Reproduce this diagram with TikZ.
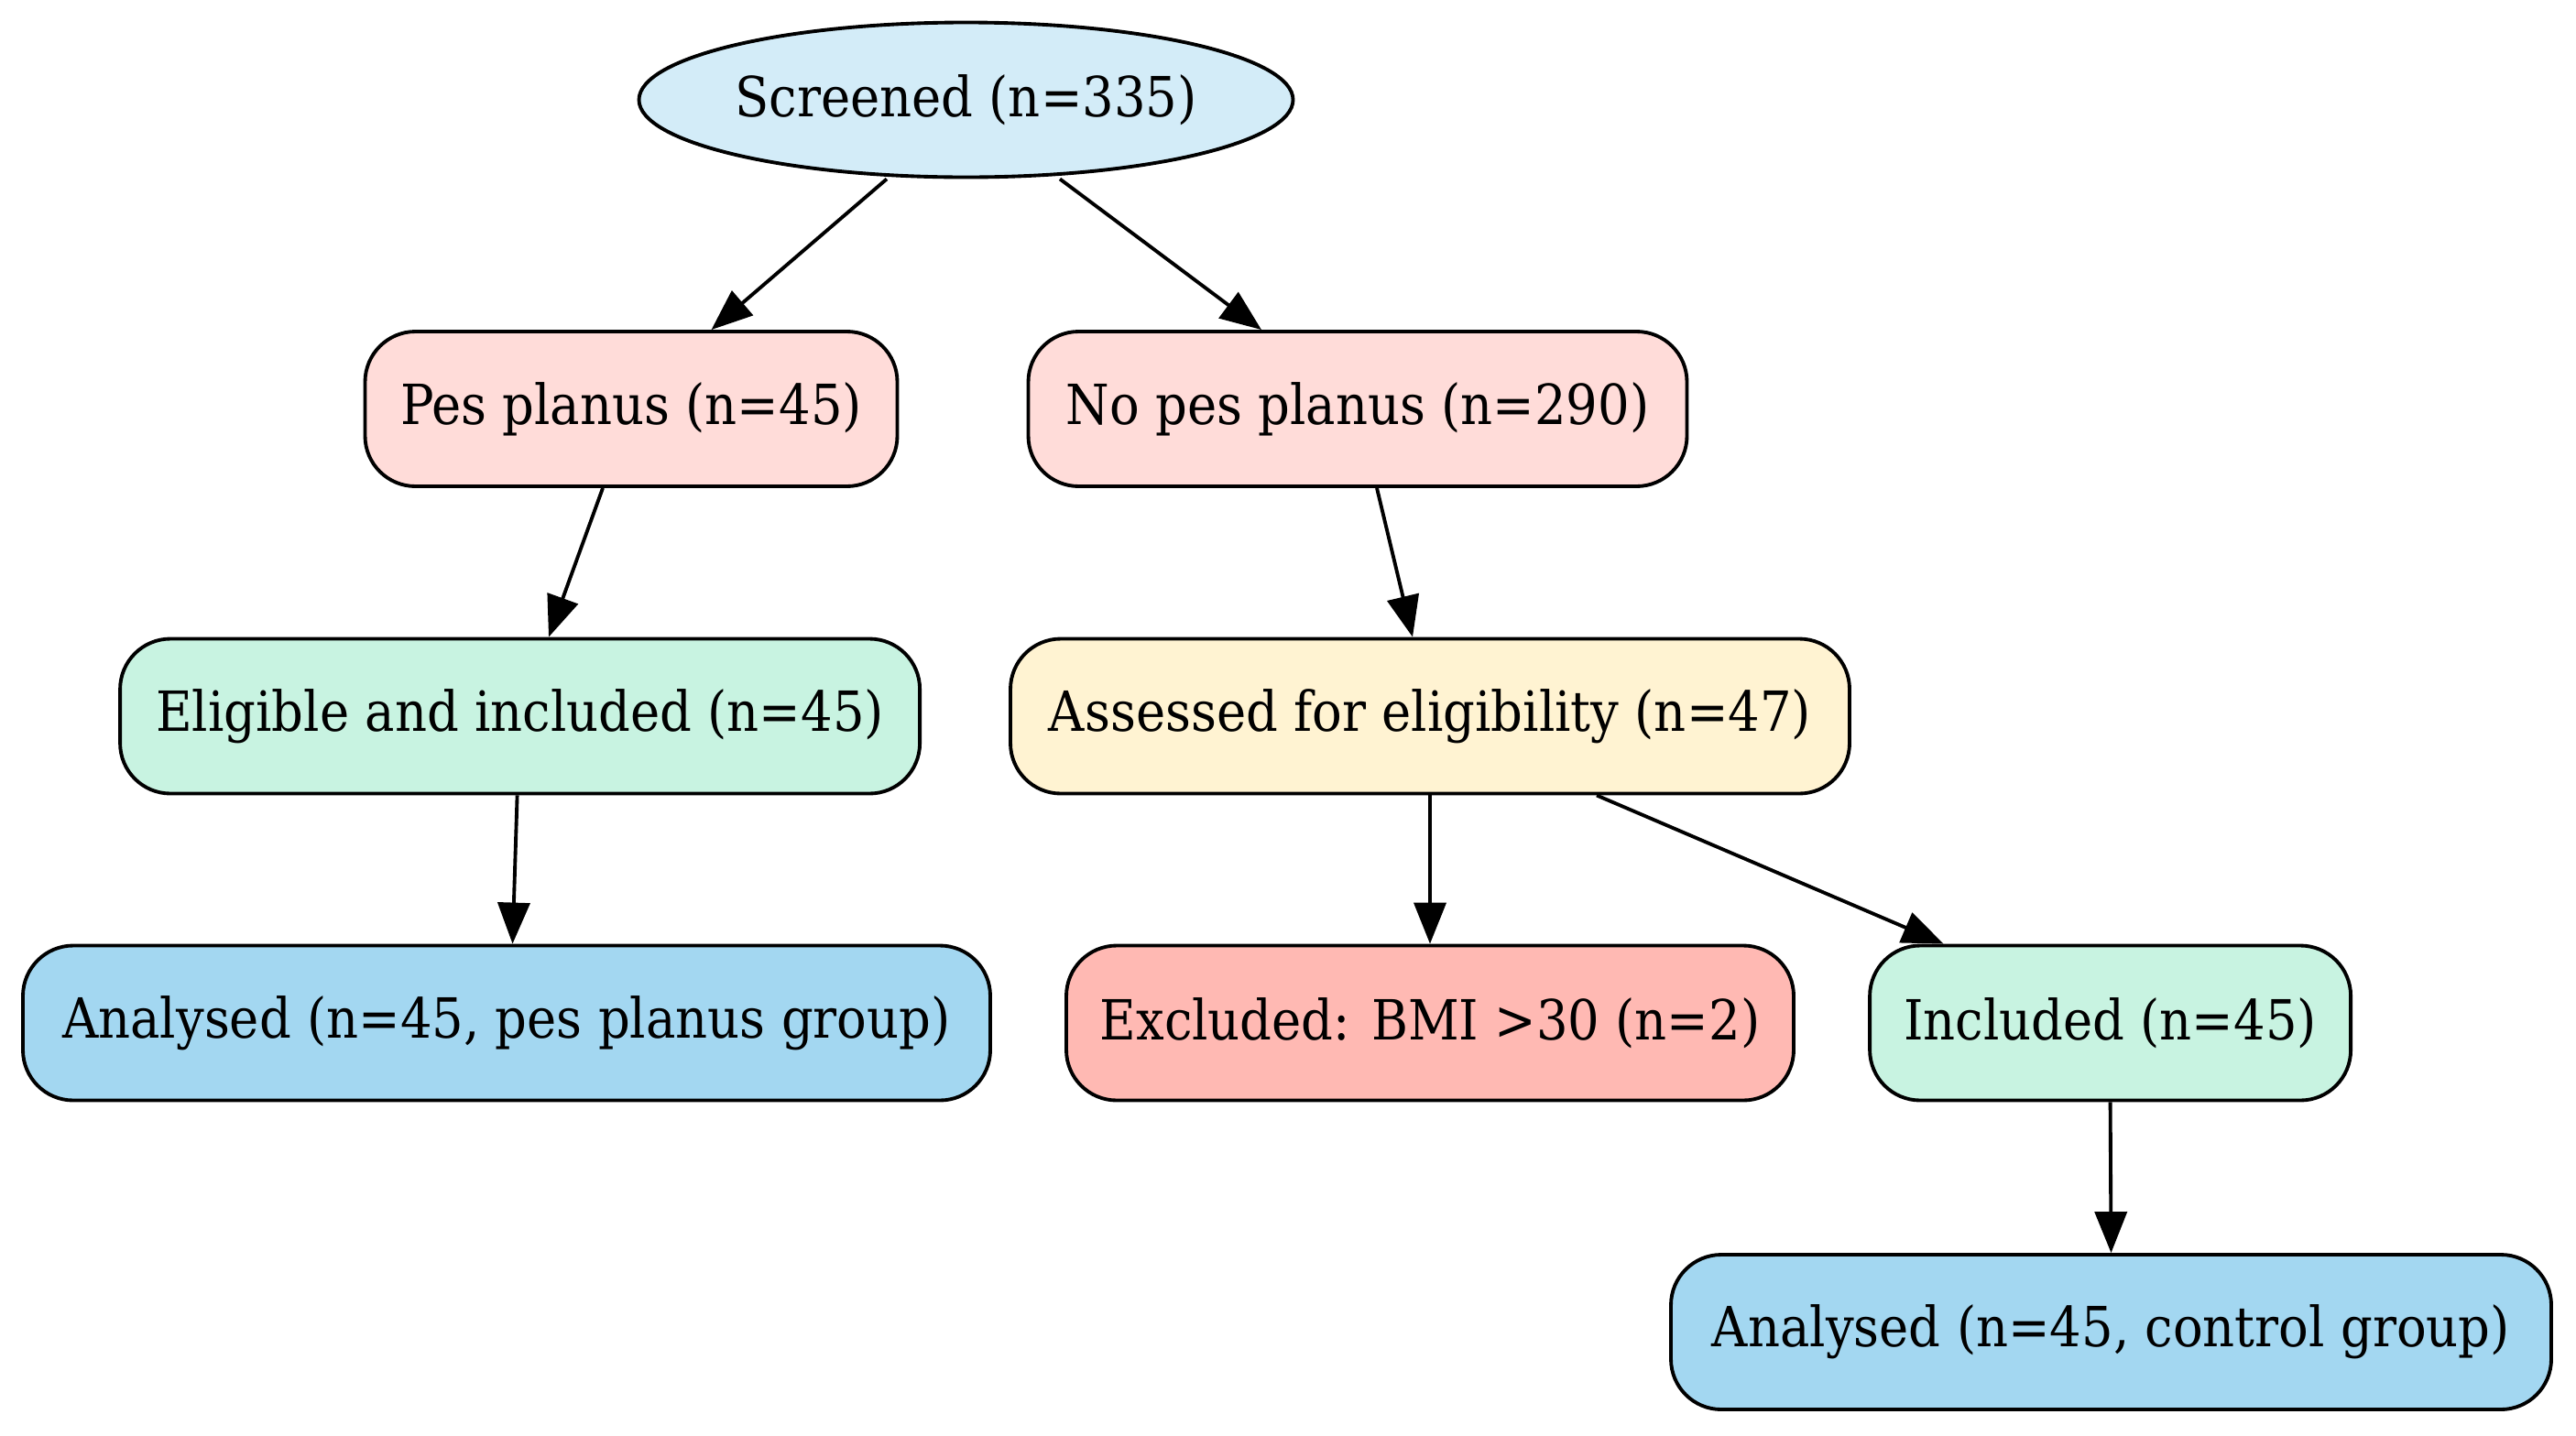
\documentclass[tikz,border=0pt]{standalone}
\usepackage{fontspec}
\setmainfont[FakeStretch=0.9]{DejaVu Serif}
\usetikzlibrary{arrows.meta,shapes.geometric}
\definecolor{cScr}{HTML}{D3ECF8}
\definecolor{cPink}{HTML}{FFDCD9}
\definecolor{cGreen}{HTML}{C8F3E1}
\definecolor{cYellow}{HTML}{FFF3D2}
\definecolor{cBlue}{HTML}{A3D7F1}
\definecolor{cRed}{HTML}{FFB9B3}
\tikzset{
  boxnode/.style={draw=black, line width=1.1pt, rounded corners=0.55cm,
    minimum height=1.69cm, inner sep=0pt, font=\fontsize{17.2}{20}\selectfont},
  ellnode/.style={draw=black, line width=1.1pt, ellipse, fill=cScr,
    minimum width=7.14cm, minimum height=1.69cm, inner sep=0pt, font=\fontsize{17.2}{20}\selectfont},
  flow/.style={line width=1.1pt, -{Triangle[length=0.45cm,width=0.35cm]}}
}
\begin{document}
\begin{tikzpicture}
\useasboundingbox (0,0) rectangle (28.12,-15.67);
\node[ellnode] (scr) at (10.545,-1.09) {Screened (n=335)};
\node[boxnode, fill=cPink, minimum width=5.81cm] (pes) at (6.89,-4.465) {Pes planus (n=45)};
\node[boxnode, fill=cPink, minimum width=7.19cm] (nopes) at (14.82,-4.465) {No pes planus (n=290)};
\node[boxnode, fill=cGreen, minimum width=8.73cm] (elig) at (5.676,-7.82) {Eligible and included (n=45)};
\node[boxnode, fill=cYellow, minimum width=9.16cm] (assess) at (15.61,-7.82) {Assessed for eligibility (n=47)};
\node[boxnode, fill=cBlue, minimum width=10.56cm] (anp) at (5.53,-11.17) {Analysed (n=45, pes planus group)};
\node[boxnode, fill=cRed, minimum width=7.94cm] (excl) at (15.61,-11.17) {Excluded: BMI >30 (n=2)};
\node[boxnode, fill=cGreen, minimum width=5.25cm] (incl) at (23.036,-11.17) {Included (n=45)};
\node[boxnode, fill=cBlue, minimum width=9.61cm] (ctl) at (23.045,-14.545) {Analysed (n=45, control group)};

\draw[flow] ([xshift=-0.865cm]scr.south) -- ([xshift=0.875cm]pes.north);
\draw[flow] ([xshift=1.025cm]scr.south) -- ([xshift=-1.05cm]nopes.north);
\draw[flow] ([xshift=-0.31cm]pes.south) -- ([xshift=0.314cm]elig.north);
\draw[flow] ([xshift=0.21cm]nopes.south) -- ([xshift=-0.19cm]assess.north);
\draw[flow] ([xshift=-0.03cm]elig.south) -- ([xshift=0.065cm]anp.north);
\draw[flow] (assess.south) -- (excl.north);
\draw[flow] ([xshift=1.82cm]assess.south) -- ([xshift=-1.82cm]incl.north);
\draw[flow] (incl.south) -- (ctl.north);
\end{tikzpicture}
\end{document}
